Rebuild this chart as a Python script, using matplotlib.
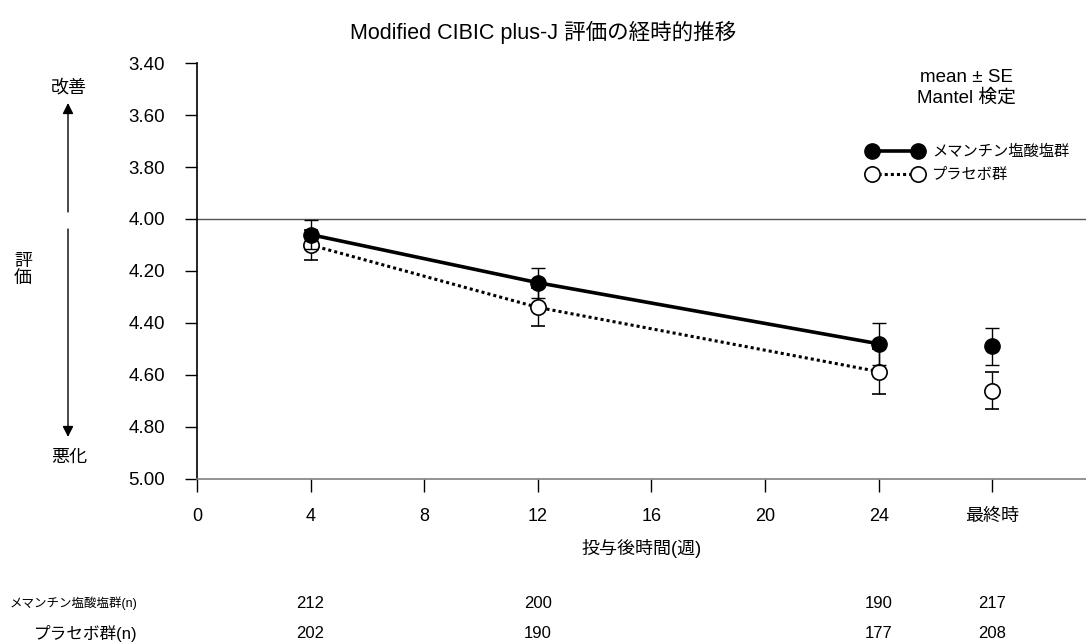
import matplotlib
matplotlib.use('Agg')
import matplotlib.pyplot as plt
from matplotlib.lines import Line2D
from matplotlib.transforms import blended_transform_factory

plt.rcParams['font.family'] = ['Liberation Sans', 'Noto Sans CJK JP', 'DejaVu Sans']

# values
weeks = [4, 12, 24]
final_x = 28
meman_mean = [4.06, 4.245, 4.48]
meman_se = [0.055, 0.058, 0.08]
meman_final_mean = [4.49]
meman_final_se = [0.07]
placebo_mean = [4.10, 4.34, 4.587]
placebo_se = [0.058, 0.073, 0.087]
placebo_final_mean = [4.66]
placebo_final_se = [0.07]

n_positions = [4, 12, 24, 28]
meman_n = [212, 200, 190, 217]
placebo_n = [202, 190, 177, 208]

xticks = [0, 4, 8, 12, 16, 20, 24, 28]
xtick_labels = ['0', '4', '8', '12', '16', '20', '24', '最終時']
yticks = [3.4, 3.6, 3.8, 4.0, 4.2, 4.4, 4.6, 4.8, 5.0]

meman_label = 'メマンチン塩酸塩群'
placebo_label = 'プラセボ群'

fig = plt.figure(figsize=(10.86, 6.43), dpi=100)
ax = fig.add_axes([0.1814, 0.2551, 1 - 0.1814, 0.902 - 0.2551])

err_kw = dict(ecolor='black', elinewidth=1.0, capsize=5, capthick=1.0)
meman_style = dict(color='black', lw=2.6, linestyle='-', marker='o', ms=11,
                   mfc='black', mec='black')
placebo_style = dict(color='black', lw=2.2, linestyle=(0, (1, 1)), marker='o',
                     ms=11, mfc='white', mec='black', mew=1.2)

# placebo (open circles, dotted)
ax.errorbar(weeks, placebo_mean, yerr=placebo_se, zorder=3, **placebo_style,
            **err_kw)
ax.errorbar([final_x], placebo_final_mean, yerr=placebo_final_se, zorder=3,
            **{**placebo_style, 'linestyle': 'none'}, **err_kw)

# memantine (filled circles, solid)
ax.errorbar(weeks, meman_mean, yerr=meman_se, zorder=4, **meman_style, **err_kw)
ax.errorbar([final_x], meman_final_mean, yerr=meman_final_se, zorder=4,
            **{**meman_style, 'linestyle': 'none'}, **err_kw)

ax.axhline(4.0, color='#555555', lw=1.0, zorder=1)

ax.set_xlim(0, 31.3)
ax.set_ylim(5.0, 3.4)
ax.set_xticks(xticks)
ax.set_xticklabels(xtick_labels, fontsize=13)
ax.set_yticks(yticks)
ax.set_yticklabels([f'{v:.2f}' for v in yticks], fontsize=13.5)
ax.tick_params(axis='both', direction='out', length=9, width=1.0, color='black')
ax.tick_params(axis='x', pad=12)
ax.tick_params(axis='y', pad=14)

for side in ['top', 'right']:
    ax.spines[side].set_visible(False)
ax.spines['left'].set_color('black')
ax.spines['left'].set_linewidth(1.2)
ax.spines['bottom'].set_color('#808080')
ax.spines['bottom'].set_linewidth(1.2)

ax.set_xlabel('投与後時間(週)', fontsize=13, labelpad=10)

fig.text(0.5, 0.950, 'Modified CIBIC plus-J 評価の経時的推移', ha='center',
         va='center', fontsize=15.5)

fig.text(0.890, 0.880, 'mean ± SE', ha='center', va='center', fontsize=13.5)
fig.text(0.890, 0.848, 'Mantel 検定', ha='center', va='center', fontsize=13.5)

# legend without error bars
handles = [Line2D([], [], **meman_style), Line2D([], [], **placebo_style)]
ax.legend(handles, [meman_label, placebo_label],
          loc='upper left', bbox_to_anchor=(0.7988, 0.775),
          bbox_transform=fig.transFigure, frameon=False, fontsize=11,
          handlelength=3.6, handletextpad=0.65, labelspacing=0.6,
          borderpad=0, borderaxespad=0, numpoints=2)

# left side annotations
fig.text(69 / 1086, 1 - 88 / 643, '改善', ha='center', va='center', fontsize=13)
fig.text(69 / 1086, 1 - 457 / 643, '悪化', ha='center', va='center', fontsize=13)
fig.text(23 / 1086, 1 - 270 / 643, '評\n価', ha='center', va='center',
         fontsize=13, linespacing=1.0)
arrow_kw = dict(arrowstyle='-|>', mutation_scale=16, lw=1.0, color='black',
                shrinkA=0, shrinkB=0)
ax.annotate('', xy=(68, 643 - 103), xytext=(68, 643 - 212),
            xycoords='figure pixels', textcoords='figure pixels',
            arrowprops=arrow_kw)
ax.annotate('', xy=(68, 643 - 437), xytext=(68, 643 - 229),
            xycoords='figure pixels', textcoords='figure pixels',
            arrowprops=arrow_kw)

# n table below the axis
trans = blended_transform_factory(ax.transData, fig.transFigure)
row1_y = 1 - 603 / 643
row2_y = 1 - 633 / 643
fig.text(137 / 1086, row1_y, meman_label + '(n)', ha='right', va='center',
         fontsize=9)
fig.text(137 / 1086, row2_y, placebo_label + '(n)', ha='right', va='center',
         fontsize=12)
for x, n1, n2 in zip(n_positions, meman_n, placebo_n):
    ax.text(x, row1_y, str(n1), transform=trans, ha='center', va='center',
            fontsize=12)
    ax.text(x, row2_y, str(n2), transform=trans, ha='center', va='center',
            fontsize=12)

fig.savefig('out.png', dpi=100)
